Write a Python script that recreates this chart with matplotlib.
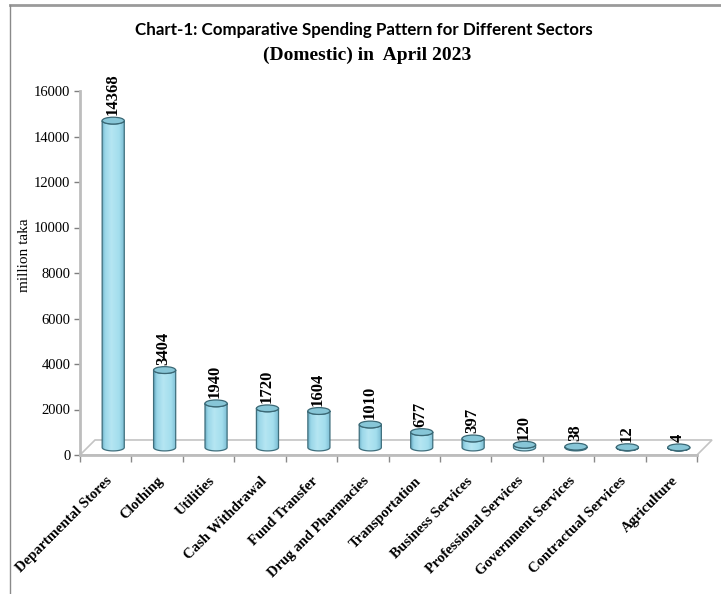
import numpy as np
import matplotlib
matplotlib.use("Agg")
from matplotlib import pyplot as plt
from matplotlib.patches import Ellipse, Polygon
from matplotlib.lines import Line2D

categories = ["Departmental Stores", "Clothing", "Utilities", "Cash Withdrawal",
              "Fund Transfer", "Drug and Pharmacies", "Transportation",
              "Business Services", "Professional Services", "Government Services",
              "Contractual Services", "Agriculture"]
values = [14368, 3404, 1940, 1720, 1604, 1010, 677, 397, 120, 38, 12, 4]
y_ticks = [0, 2000, 4000, 6000, 8000, 10000, 12000, 14000, 16000]

W, H = 721, 594
SERIF = "Liberation Serif"

# depth offset of the fake 3d floor (half depth), in data units
DX = 0.146
DY = 330
BAR_W = 0.43
ELL_H = 300


def px(x, y):
    """pixel coords (top-left origin) -> figure fraction"""
    return x / W, 1 - y / H


def body_gradient():
    stops = np.array([0.0, 0.12, 0.4, 0.75, 1.0])
    cols = np.array([[0.42, 0.68, 0.77],
                     [0.60, 0.84, 0.91],
                     [0.71, 0.90, 0.95],
                     [0.64, 0.87, 0.93],
                     [0.47, 0.73, 0.82]])
    t = np.linspace(0, 1, 64)
    grad = np.stack([np.interp(t, stops, cols[:, k]) for k in range(3)], axis=-1)
    return grad[np.newaxis, :, :]


def cylinder(ax, xc, base, top, grad):
    t1 = np.linspace(np.pi, 2 * np.pi, 40)
    t2 = np.linspace(2 * np.pi, np.pi, 40)
    pts = [(xc - BAR_W / 2, top), (xc - BAR_W / 2, base)]
    pts += [(xc + BAR_W / 2 * np.cos(t), base + ELL_H / 2 * np.sin(t)) for t in t1]
    pts += [(xc + BAR_W / 2, top)]
    pts += [(xc + BAR_W / 2 * np.cos(t), top + ELL_H / 2 * np.sin(t)) for t in t2]
    body = Polygon(pts, closed=True, facecolor="none", edgecolor="#3f6f7d",
                   lw=0.9, zorder=4)
    ax.add_patch(body)
    img = ax.imshow(grad, extent=[xc - BAR_W / 2, xc + BAR_W / 2, base - ELL_H, top + ELL_H],
                    aspect="auto", zorder=3, interpolation="bilinear")
    img.set_clip_path(body)
    cap = Ellipse((xc, top), BAR_W, ELL_H, facecolor="#87c6d7", edgecolor="#3a6875",
                  lw=0.9, zorder=5)
    ax.add_patch(cap)


def main():
    fig = plt.figure(figsize=(W / 100, H / 100), dpi=100)
    ax = fig.add_axes([80 / W, 1 - 455 / H, 617 / W, 364 / H])
    n = len(categories)

    # floor
    floor = Polygon([(0, 0), (n, 0), (n + 2 * DX, 2 * DY), (2 * DX, 2 * DY)],
                    closed=True, facecolor="white", edgecolor="#c4c4c4", lw=1.2,
                    zorder=1, clip_on=False)
    ax.add_patch(floor)
    ax.plot([0, n], [0, 0], color="#bdbdbd", lw=2, zorder=2, clip_on=False)

    grad = body_gradient()
    for i, v in enumerate(values):
        xc = i + 0.5 + DX
        cylinder(ax, xc, DY, v + DY, grad)
        ax.text(xc - 0.02, v + DY + ELL_H / 2 + 80, str(v), rotation=90,
                ha="center", va="bottom", fontsize=12, fontweight="bold",
                family=SERIF, zorder=6)

    ax.set_xlim(0, n)
    ax.set_ylim(0, 16000)
    for s in ["top", "right", "bottom"]:
        ax.spines[s].set_visible(False)
    ax.spines["left"].set_color("#bdbdbd")
    ax.spines["left"].set_linewidth(2)

    ax.set_yticks(y_ticks)
    ax.set_yticklabels([str(t) for t in y_ticks], family=SERIF, fontsize=10.5)
    ax.tick_params(axis="y", length=4, width=1, color="#7f7f7f", pad=3)

    ax.set_xticks([i + 0.5 for i in range(n)])
    ax.set_xticklabels(categories, rotation=45, ha="right", rotation_mode="anchor",
                       family=SERIF, fontsize=10.5, fontweight="bold")
    ax.set_xticks(range(n + 1), minor=True)
    ax.tick_params(axis="x", which="major", length=0, pad=14)
    ax.tick_params(axis="x", which="minor", length=5, width=1, color="#8a8a8a")

    fig.text(*px(25, 255), "million taka", rotation=90, ha="center", va="center",
             family=SERIF, fontsize=11)

    fig.text(*px(364, 30), "Chart-1: Comparative Spending Pattern for Different Sectors",
             ha="center", va="center", family="Lato",
             fontweight="bold", fontsize=12.2)
    fig.text(*px(367, 55), "(Domestic) in  April 2023", ha="center", va="center",
             family=SERIF, fontweight="bold", fontsize=14)

    # page frame
    fig.add_artist(Line2D([10 / W, 1], [1 - 5 / H, 1 - 5 / H], color="#9a9a9a", lw=2))
    fig.add_artist(Line2D([10 / W, 10 / W], [0, 1 - 5 / H], color="#8a8a8a", lw=1))

    fig.savefig("out.png", dpi=100)


if __name__ == "__main__":
    main()
